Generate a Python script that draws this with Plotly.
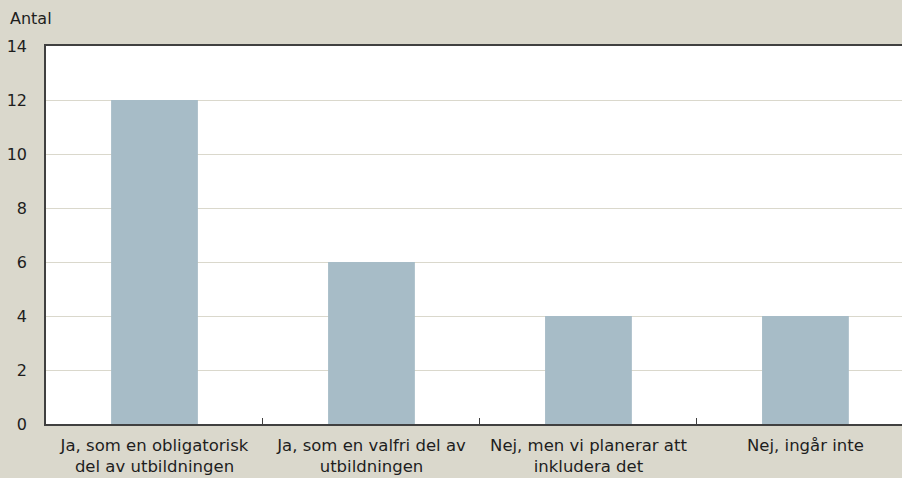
import plotly.graph_objects as go

# data
kategorier = [
    "Ja, som en obligatorisk<br>del av utbildningen",
    "Ja, som en valfri del av<br>utbildningen",
    "Nej, men vi planerar att<br>inkludera det",
    "Nej, ingår inte",
]
antal = [12, 6, 4, 4]
y_ticks = [0, 2, 4, 6, 8, 10, 12, 14]

font_family = "DejaVu Sans, sans-serif"

trace = go.Bar(
    x=kategorier,
    y=antal,
    marker=dict(color="#A7BCC7", line=dict(width=0)),
    width=0.4,
)
fig = go.Figure(data=[trace])

fig.update_layout(
    width=902,
    height=478,
    paper_bgcolor="#DAD8CC",
    plot_bgcolor="#FFFFFF",
    margin=dict(l=46, r=0, t=46, b=54),
    font=dict(family=font_family, size=16, color="#1E1E1E"),
    showlegend=False,
)
fig.update_xaxes(
    range=[-0.5, 3.445],
    showline=True,
    linecolor="#404040",
    linewidth=1.5,
    mirror=True,
    ticks="inside",
    tickson="boundaries",
    ticklen=6,
    tickcolor="#404040",
    showgrid=False,
    ticklabelstandoff=5,
    tickfont=dict(size=16.5),
    automargin=False,
)
fig.update_yaxes(
    range=[0, 14],
    tickvals=y_ticks,
    showline=True,
    linecolor="#404040",
    linewidth=1.5,
    gridcolor="#DAD8CC",
    gridwidth=1,
    zeroline=False,
    ticks="",
    ticklabelstandoff=14,
    automargin=False,
)
fig.add_annotation(
    text="Antal", xref="paper", yref="paper",
    x=-38 / 856, y=1.0, yshift=28,
    xanchor="left", yanchor="middle",
    showarrow=False,
)

fig.write_html(
    "out.html",
    config={"displayModeBar": False},
    post_script="document.body.style.margin='0';",
)
